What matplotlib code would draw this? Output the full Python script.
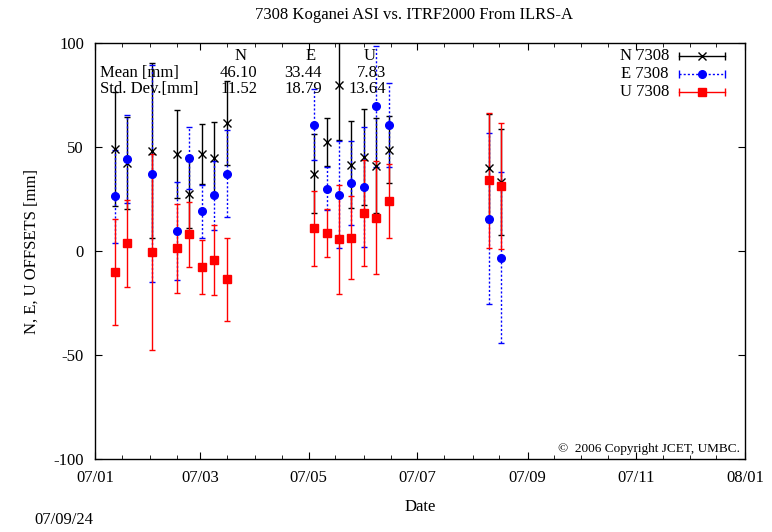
import datetime as dt
import matplotlib
matplotlib.use("Agg")
import matplotlib.pyplot as plt
import matplotlib.dates as mdates

plt.rcParams['font.family'] = ['Liberation Serif', 'DejaVu Serif']
plt.rcParams['axes.unicode_minus'] = False

# weekly solutions (dates)
dates = ["2007-01-12", "2007-01-19", "2007-02-02", "2007-02-16", "2007-02-23",
         "2007-03-02", "2007-03-09", "2007-03-16", "2007-05-04", "2007-05-11",
         "2007-05-18", "2007-05-25", "2007-06-01", "2007-06-08", "2007-06-15",
         "2007-08-10", "2007-08-17"]

n_val = [49.1, 42.3, 48.3, 46.7, 27.3, 46.7, 44.8, 61.6, 37.2, 52.3,
         79.8, 41.6, 45.1, 41.1, 48.7, 40.0, 33.2]
n_err = [27.5, 22.0, 42.0, 21.0, 16.0, 14.5, 17.0, 20.0, 19.0, 11.6,
         26.4, 21.0, 23.0, 23.0, 16.0, 25.9, 25.6]

e_val = [26.3, 44.3, 37.2, 9.7, 44.8, 19.1, 26.8, 37.2, 60.8, 30.0,
         27.1, 32.7, 30.8, 69.5, 60.6, 15.6, -3.2]
e_err = [22.5, 21.0, 52.0, 23.7, 15.0, 12.8, 16.5, 21.0, 17.0, 10.4,
         25.8, 20.0, 29.0, 29.0, 20.0, 41.0, 41.0]

u_val = [-10.2, 3.7, -0.5, 1.3, 8.1, -7.8, -4.3, -13.6, 10.9, 8.9,
         5.6, 6.5, 18.5, 16.1, 24.1, 34.0, 31.1]
u_err = [25.5, 21.0, 47.0, 21.5, 15.5, 13.0, 17.0, 20.0, 18.0, 11.5,
         26.3, 20.0, 25.5, 27.0, 18.0, 32.6, 30.3]

stat_cols = ["N", "E", "U"]
stat_mean = ["46.10", "33.44", "7.83"]
stat_std = ["11.52", "18.79", "13.64"]

x = [dt.datetime.strptime(d, "%Y-%m-%d") for d in dates]

fig = plt.figure(figsize=(7.72, 5.32), dpi=100)
ax = fig.add_axes([0.1231, 0.1367, 0.8419, 0.7825])

ax.errorbar(x, n_val, yerr=n_err, fmt='x', color='black', ecolor='black',
            ms=6, mew=1.0, elinewidth=1.0, capsize=2.5, capthick=1.0)
eb = ax.errorbar(x, e_val, yerr=e_err, fmt='o', color='#0000ff', ecolor='#0000ff',
                 ms=5.5, elinewidth=1.0, capsize=2.5, capthick=1.0)
eb[2][0].set_linestyle((0, (1.5, 1.5)))
ax.errorbar(x, u_val, yerr=u_err, fmt='s', color='#ff0000', ecolor='#ff0000',
            ms=5.5, elinewidth=1.0, capsize=2.5, capthick=1.0)

ax.set_xlim(dt.datetime(2007, 1, 1), dt.datetime(2008, 1, 1))
ax.set_ylim(-100, 100)
ax.set_yticks([-100, -50, 0, 50, 100])
ax.xaxis.set_major_locator(mdates.MonthLocator(bymonth=[1, 3, 5, 7, 9, 11]))
ax.xaxis.set_minor_locator(mdates.MonthLocator(bymonthday=[1, 16]))
ax.xaxis.set_major_formatter(mdates.DateFormatter("%y/%m"))
ax.tick_params(which='both', direction='in', top=True, right=True,
               labelsize=12, pad=8)
ax.tick_params(which='major', length=5)
ax.tick_params(which='minor', length=3)
ax.tick_params(axis='y', which='minor', left=False, right=False)
for s in ax.spines.values():
    s.set_linewidth(1.0)

ax.set_title("7308 Koganei ASI vs. ITRF2000 From ILRS-A", fontsize=12, pad=17, x=0.49)
ax.set_xlabel("Date", fontsize=12, labelpad=9)
ax.set_ylabel("N, E, U OFFSETS [mm]", fontsize=12, labelpad=10)

# statistics block
tr = ax.transAxes
col_x = [0.2495, 0.349, 0.448]
hdr_x = [0.224, 0.331, 0.423]
ax.text(0.0077, 0.928, "Mean [mm]", transform=tr, fontsize=12, va='center')
ax.text(0.0077, 0.889, "Std. Dev.[mm]", transform=tr, fontsize=12, va='center')
for cx, hx, c, m, s in zip(col_x, hdr_x, stat_cols, stat_mean, stat_std):
    ax.text(hx, 0.968, c, transform=tr, fontsize=12, va='center', ha='center')
    ax.text(cx, 0.928, m, transform=tr, fontsize=12, va='center', ha='right')
    ax.text(cx, 0.889, s, transform=tr, fontsize=12, va='center', ha='right')

# legend, gnuplot style
leg = [("N 7308", 'black', 'x', '-'), ("E 7308", '#0000ff', 'o', (0, (1.5, 1.5))),
       ("U 7308", '#ff0000', 's', '-')]
for i, (lab, col, mk, ls) in enumerate(leg):
    yy = 0.969 - i * 0.043
    ax.text(0.883, yy, lab, transform=tr, fontsize=12, va='center', ha='right')
    ax.plot([0.898, 0.97], [yy, yy], transform=tr, color=col, lw=1.0, ls=ls)
    ax.plot([0.898, 0.97], [yy, yy], transform=tr, color=col, lw=0, marker='|', ms=6)
    ax.plot([0.934], [yy], transform=tr, color=col, marker=mk, ms=5.5 if mk != 'x' else 6)

ax.text(0.993, 0.025, "\u00a9  2006 Copyright JCET, UMBC.", transform=tr,
        fontsize=9.5, ha='right', va='center')

fig.text(0.045, 0.022, "07/09/24", fontsize=12, va='center')

fig.savefig("out.png", dpi=100)
